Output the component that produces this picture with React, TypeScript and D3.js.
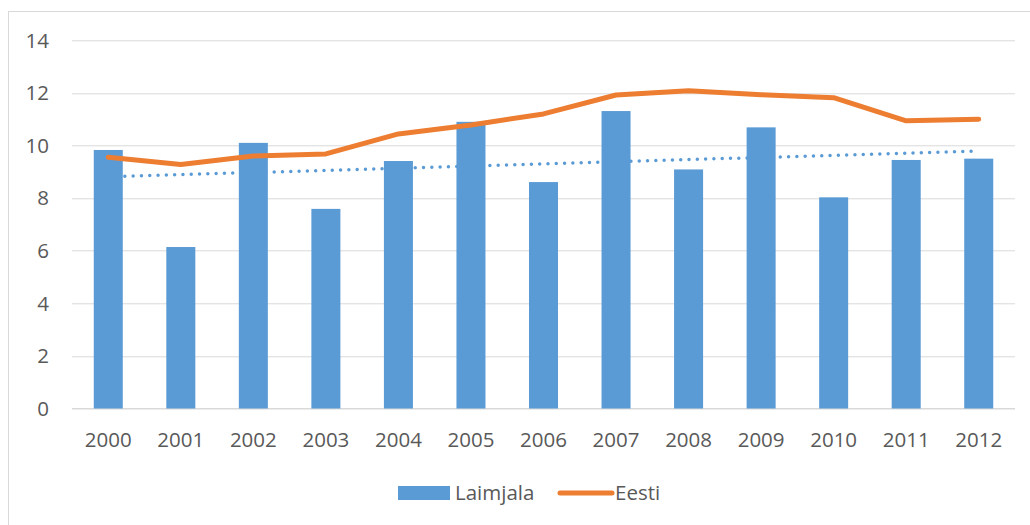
import React, { useEffect, useRef } from "react";
import * as d3 from "d3";

// chart values
const years = ["2000", "2001", "2002", "2003", "2004", "2005", "2006", "2007", "2008", "2009", "2010", "2011", "2012"];
const laimjala = [9.83, 6.14, 10.1, 7.59, 9.41, 10.9, 8.61, 11.31, 9.09, 10.69, 8.03, 9.45, 9.5];
const eesti = [9.55, 9.28, 9.6, 9.68, 10.44, 10.78, 11.2, 11.92, 12.08, 11.93, 11.82, 10.94, 11.0];
// linear trend of Laimjala, value at first and last year
const trendEnds = [8.81, 9.79];
const yTicks = [0, 2, 4, 6, 8, 10, 12, 14];

const BLUE = "#5b9bd5";
const ORANGE = "#ed7d31";
const GRID = "#d9d9d9";
const TEXT = "#595959";
const FONT = "'Open Sans', sans-serif";
const FS = 20.5;

export default function App() {
  const ref = useRef<SVGSVGElement>(null);

  useEffect(() => {
    const size = { width: 1030, height: 525 };
    const margin = { left: 72, right: 15, top: 40.3, bottom: 116.5 };
    const innerW = size.width - margin.left - margin.right;
    const innerH = size.height - margin.top - margin.bottom;

    const svg = d3.select(ref.current);
    svg.selectAll("*").remove();

    // chart frame
    svg.append("rect")
      .attr("x", 8.5).attr("y", 11.5)
      .attr("width", 1040).attr("height", 540)
      .attr("fill", "#fff").attr("stroke", GRID).attr("stroke-width", 1);

    const g = svg.append("g").attr("transform", `translate(${margin.left},${margin.top})`);

    const x = d3.scaleBand<string>().domain(years).range([0, innerW]).paddingInner(0.6).paddingOuter(0.3);
    const y = d3.scaleLinear().domain([0, 14]).range([innerH, 0]);
    const cx = (yr: string) => (x(yr) as number) + x.bandwidth() / 2;

    // gridlines
    g.selectAll(".grid").data(yTicks).enter().append("line")
      .attr("x1", 0).attr("x2", innerW)
      .attr("y1", d => Math.round(y(d)) + 0.5).attr("y2", d => Math.round(y(d)) + 0.5)
      .attr("stroke", GRID).attr("stroke-width", d => (d === 0 ? 1.5 : 1));

    // y labels
    g.selectAll(".ylab").data(yTicks).enter().append("text")
      .attr("x", -23).attr("y", d => y(d))
      .attr("dy", "0.36em")
      .attr("text-anchor", "end")
      .attr("font-family", FONT).attr("font-size", FS).attr("fill", TEXT)
      .text(d => d);

    // x labels
    g.selectAll(".xlab").data(years).enter().append("text")
      .attr("x", cx).attr("y", innerH + 39)
      .attr("text-anchor", "middle")
      .attr("font-family", FONT).attr("font-size", FS).attr("fill", TEXT)
      .text(d => d);

    // trend line (behind bars)
    const first = years[0], last = years[years.length - 1];
    g.append("line")
      .attr("x1", cx(first)).attr("x2", cx(last))
      .attr("y1", y(trendEnds[0])).attr("y2", y(trendEnds[1]))
      .attr("stroke", BLUE).attr("stroke-width", 3.5)
      .attr("stroke-linecap", "round").attr("stroke-dasharray", "0 8.3");

    // bars
    g.selectAll(".bar").data(laimjala).enter().append("rect")
      .attr("x", (d, i) => x(years[i]) as number)
      .attr("y", d => y(d))
      .attr("width", x.bandwidth())
      .attr("height", d => y(0) - y(d))
      .attr("fill", BLUE);

    // Eesti line
    const line = d3.line<number>().x((d, i) => cx(years[i])).y(d => y(d));
    g.append("path")
      .datum(eesti)
      .attr("d", line)
      .attr("fill", "none").attr("stroke", ORANGE).attr("stroke-width", 5)
      .attr("stroke-linecap", "round").attr("stroke-linejoin", "round");

    // legend
    const lg = svg.append("g").attr("transform", "translate(0,493)");
    lg.append("rect").attr("x", 398).attr("y", -7).attr("width", 52).attr("height", 14).attr("fill", BLUE);
    lg.append("text").attr("x", 455).attr("y", 0).attr("dy", "0.36em")
      .attr("font-family", FONT).attr("font-size", FS).attr("fill", TEXT).text("Laimjala");
    lg.append("line").attr("x1", 560).attr("x2", 612).attr("y1", 0).attr("y2", 0)
      .attr("stroke", ORANGE).attr("stroke-width", 5).attr("stroke-linecap", "round");
    lg.append("text").attr("x", 615).attr("y", 0).attr("dy", "0.36em")
      .attr("font-family", FONT).attr("font-size", FS).attr("fill", TEXT).text("Eesti");
  }, []);

  return (
    <svg
      ref={ref}
      width={1030}
      height={525}
      style={{ position: "absolute", left: 0, top: 0, display: "block", background: "#fff" }}
    />
  );
}
